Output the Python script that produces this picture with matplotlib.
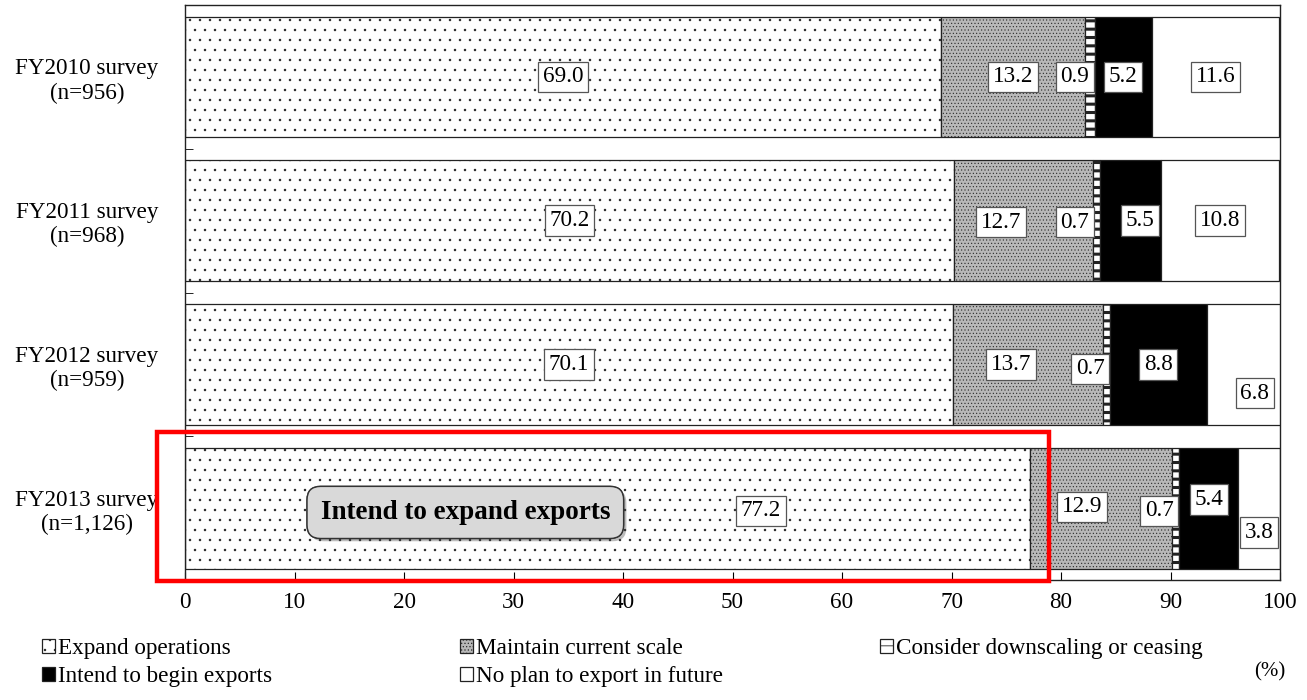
import matplotlib
matplotlib.use("Agg")
import matplotlib.pyplot as plt
import matplotlib.patheffects as pe
from matplotlib import hatch as mhatch
from matplotlib.patches import Rectangle, Patch
import numpy as np

plt.rcParams["font.family"] = ["Liberation Serif", "DejaVu Serif"]
plt.rcParams["hatch.linewidth"] = 0.6


# finer dot hatch than matplotlib's default '.' (smaller, tighter dots)
class FineDots(mhatch.Circles):
    size = 0.08
    filled = True

    def __init__(self, hatch, density):
        self.num_rows = hatch.count(".") * 10  # must stay even
        super().__init__(hatch, density)


mhatch._hatch_types = [FineDots if h is mhatch.SmallFilledCircles else h
                       for h in mhatch._hatch_types]

# ── Data ─────────────────────────────────────────────────────────────────────
categories = ["FY2010 survey\n(n=956)", "FY2011 survey\n(n=968)",
              "FY2012 survey\n(n=959)", "FY2013 survey\n(n=1,126)"]
expand = [69.0, 70.2, 70.1, 77.2]
maintain = [13.2, 12.7, 13.7, 12.9]
downscale = [0.9, 0.7, 0.7, 0.7]
begin = [5.2, 5.5, 8.8, 5.4]
no_plan = [11.6, 10.8, 6.8, 3.8]
series_names = ["Expand operations", "Maintain current scale",
                "Consider downscaling or ceasing", "Intend to begin exports",
                "No plan to export in future"]
ticks_x = list(range(0, 101, 10))
callout_text = "Intend to expand exports"

# label nudges (x in %, y in band units) so the boxes don't collide
label_shift = [
    [(0, 0), (0, 0), (0, 0), (14.0, 0.02)],
    [(0, 0), (-2.0, 0.01), (-1.5, 0), (-1.7, -0.01)],
    [(-1.4, 0), (-2.0, 0.01), (-1.5, 0.03), (-1.5, 0.02)],
    [(0, 0), (0.9, 0), (0, 0), (0, -0.06)],
    [(0, 0), (0, 0), (1.0, 0.2), (0, 0.17)],
]

# ── Style per segment ────────────────────────────────────────────────────────
STYLES = [
    dict(facecolor="white", hatch=".", lw_h=0.6),
    dict(facecolor="#b8b8b8", hatch="...", lw_h=0.5),
    dict(facecolor="white", hatch="--", lw_h=2.2),
    dict(facecolor="black", hatch=None, lw_h=0.6),
    dict(facecolor="white", hatch=None, lw_h=0.6),
]
FS = 16.7

fig = plt.figure(figsize=(13.07, 7.0), dpi=100)
ax = fig.add_axes([185 / 1307, 1 - 580 / 700, 1095 / 1307, 575 / 700])

y = np.arange(len(categories))
data = [expand, maintain, downscale, begin, no_plan]
left = np.zeros(len(categories))
handles = []
for name, vals, st, shifts in zip(series_names, data, STYLES, label_shift):
    vals = np.array(vals)
    with plt.rc_context({"hatch.linewidth": st["lw_h"]}):
        ax.barh(y, vals, left=left, height=0.84, facecolor=st["facecolor"],
                edgecolor="#222222", linewidth=0.9, hatch=st["hatch"], zorder=2)
        handles.append(Patch(facecolor=st["facecolor"], edgecolor="#222222",
                             linewidth=0.9, hatch=st["hatch"], label=name))
    for i, v in enumerate(vals):
        dx, dy = shifts[i]
        ax.text(left[i] + v / 2 + dx, y[i] + dy, f"{v:.1f}", ha="center", va="center",
                fontsize=FS, zorder=5,
                bbox=dict(boxstyle="square,pad=0.2", facecolor="white",
                          edgecolor="#555555", linewidth=0.9))
    left += vals

ax.set_xlim(0, 100)
ax.set_ylim(3.5, -0.5)
ax.set_xticks(ticks_x)
ax.tick_params(axis="x", direction="in", length=6, labelsize=FS, pad=9)
ax.set_yticks(y)
ax.set_yticklabels(categories, multialignment="center", fontsize=FS)
ax.tick_params(axis="y", which="major", length=0, pad=19)
ax.set_yticks([0.5, 1.5, 2.5], minor=True)
ax.tick_params(axis="y", which="minor", direction="in", length=6)
for spine in ax.spines.values():
    spine.set_edgecolor("#222222")
    spine.set_linewidth(1.0)

# callout box
t = ax.text(25.6, 3.03, callout_text, ha="center", va="center", fontsize=19.5,
            fontweight="bold", zorder=6,
            bbox=dict(boxstyle="round,pad=0.5,rounding_size=0.5",
                      facecolor="#d9d9d9", edgecolor="#333333", linewidth=1.0))
t.get_bbox_patch().set_path_effects(
    [pe.withSimplePatchShadow(offset=(2, -2), alpha=0.35), pe.Normal()])

# red highlight frame
ax.add_patch(Rectangle((-2.56, 2.47), 81.5, 1.035, fill=False, edgecolor="#ff0000",
                       linewidth=3.2, clip_on=False, zorder=7))

# legend, one block per column
cols = [[0, 3], [1, 4], [2]]
xs = [42, 460, 880]
for col, x0 in zip(cols, xs):
    fig.legend([handles[k] for k in col], [series_names[k] for k in col],
               loc="upper left", bbox_to_anchor=(x0 / 1307, 1 - 638 / 700),
               frameon=False, fontsize=FS, handlelength=0.55, handleheight=0.55,
               handletextpad=0.12, labelspacing=0.32, borderpad=0, borderaxespad=0)

fig.text(1270 / 1307, 1 - 672 / 700, "(%)", ha="center", va="center", fontsize=15)

fig.savefig("out.png", dpi=100)
